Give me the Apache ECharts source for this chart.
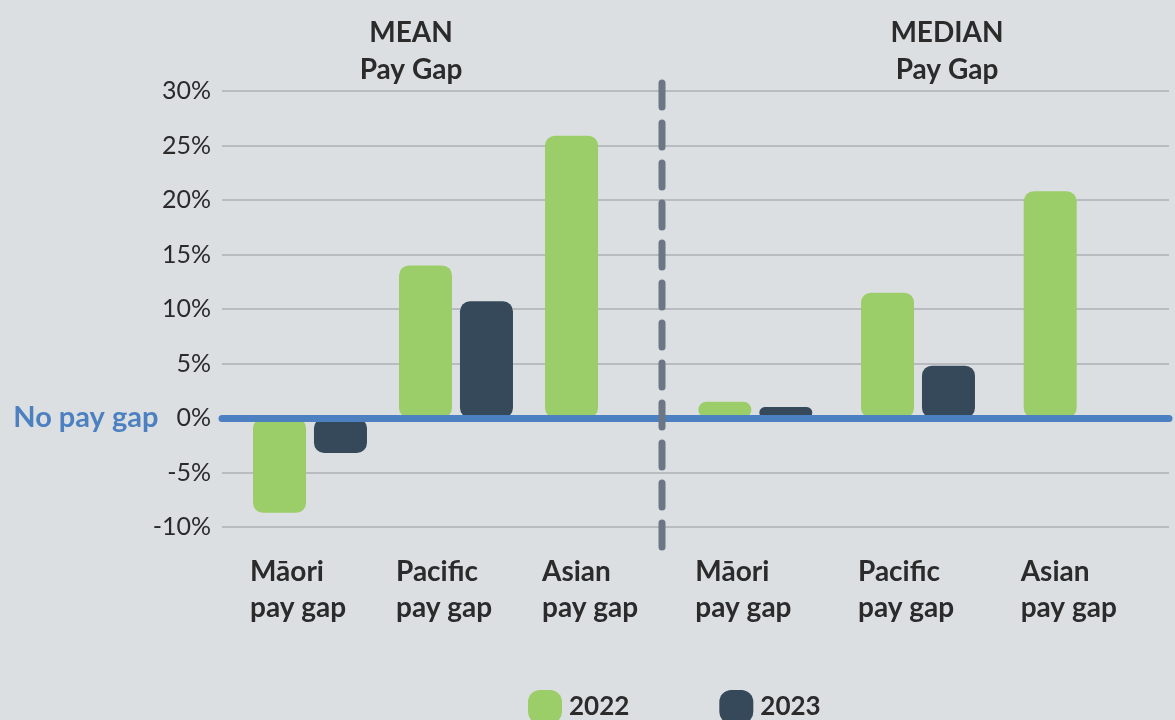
<!DOCTYPE html>
<html>
<head>
<meta charset="utf-8">
<title>Mean and median pay gap</title>
<script src="https://cdn.jsdelivr.net/npm/echarts@6/dist/echarts.min.js"></script>
<style>
  html, body { margin: 0; padding: 0; background: #dcdfe2; }
  #chart { width: 1175px; height: 720px; }
</style>
</head>
<body>
<div id="chart"></div>
<script>
// data
var categories = ['Māori', 'Pacific', 'Asian']
var years = ['2022', '2023']
var mean2022 = [-8.7, 14.0, 25.9]
var mean2023 = [-3.2, 10.7, null]
var median2022 = [1.5, 11.5, 20.8]
var median2023 = [1.0, 4.8, null]
var yMin = -10
var yMax = 30
var yStep = 5

var green = '#9bcd68'
var navy = '#35495a'
var blue = '#4c80c1'
var ink = '#2b2b2b'
var font = 'Lato'

var gridTop = 91
var gridBottom = 193

// rounded square for the legend
var legendIcon = 'path://M12,0 H22 A12,12 0 0 1 34,12 V22 A12,12 0 0 1 22,34 H12 A12,12 0 0 1 0,22 V12 A12,12 0 0 1 12,0 Z'

function catAxis (gridIndex) {
  return {
    type: 'category',
    gridIndex: gridIndex,
    data: categories,
    axisLine: { show: false },
    axisTick: { show: false },
    axisLabel: {
      interval: 0,
      margin: 27,
      formatter: function (v) {
        return '{a|' + v + '}\n{a|pay gap}'
      },
      rich: {
        a: {
          width: 120,
          align: 'left',
          fontFamily: font,
          fontWeight: 'bold',
          fontSize: 28,
          lineHeight: 36,
          color: ink
        }
      }
    }
  }
}

function hiddenY (gridIndex) {
  return {
    type: 'value',
    gridIndex: gridIndex,
    min: yMin,
    max: yMax,
    interval: yStep,
    show: false
  }
}

function barSeries (name, data, axisIndex, color) {
  return {
    name: name,
    type: 'bar',
    xAxisIndex: axisIndex,
    yAxisIndex: axisIndex,
    data: data,
    barWidth: 53,
    barGap: '15%',
    itemStyle: { color: color, borderRadius: 10 },
    emphasis: { disabled: true }
  }
}

var chart = echarts.init(document.getElementById('chart'), null, { renderer: 'canvas' })

chart.setOption({
  backgroundColor: '#dcdfe2',
  animation: false,
  title: [
    {
      text: 'MEAN\nPay Gap',
      left: 406,
      top: 9,
      textAlign: 'center',
      textStyle: { fontFamily: font, fontWeight: 'bold', fontSize: 28, lineHeight: 37, color: ink }
    },
    {
      text: 'MEDIAN\nPay Gap',
      left: 942,
      top: 9,
      textAlign: 'center',
      textStyle: { fontFamily: font, fontWeight: 'bold', fontSize: 28, lineHeight: 37, color: ink }
    }
  ],
  legend: {
    data: years,
    left: 523,
    top: 685,
    itemWidth: 34,
    itemHeight: 34,
    itemGap: 90,
    icon: legendIcon,
    selectedMode: false,
    textStyle: { fontFamily: font, fontWeight: 'bold', fontSize: 26, color: ink, padding: [0, 0, 0, 2] }
  },
  grid: [
    { left: 222, right: 6, top: gridTop, bottom: gridBottom },
    { left: 237, width: 438, top: gridTop, bottom: gridBottom },
    { left: 674, width: 488, top: gridTop, bottom: gridBottom }
  ],
  xAxis: [
    {
      type: 'category',
      gridIndex: 0,
      data: [''],
      z: 10,
      axisLine: { show: true, onZero: true, lineStyle: { color: blue, width: 7, cap: 'round' } },
      axisTick: { show: false },
      axisLabel: { show: false }
    },
    catAxis(1),
    catAxis(2)
  ],
  yAxis: [
    {
      type: 'value',
      gridIndex: 0,
      min: yMin,
      max: yMax,
      interval: yStep,
      axisLine: { show: false },
      axisTick: { show: false },
      splitLine: { lineStyle: { color: '#b8bbbf', width: 2 } },
      axisLabel: {
        margin: 11,
        formatter: function (v) {
          if (v === 0) return '{b|No pay gap}{s|}{a|0%}'
          return '{a|' + v + '%}'
        },
        rich: {
          a: { fontFamily: font, fontSize: 25, color: ink },
          b: { fontFamily: font, fontSize: 29, fontWeight: 'bold', color: blue },
          s: { width: 18 }
        }
      }
    },
    hiddenY(1),
    hiddenY(2)
  ],
  series: [
    barSeries('2022', mean2022, 1, green),
    barSeries('2023', mean2023, 1, navy),
    barSeries('2022', median2022, 2, green),
    barSeries('2023', median2023, 2, navy)
  ],
  graphic: [
    {
      type: 'line',
      z: 20,
      shape: { x1: 662, y1: 83, x2: 662, y2: 549 },
      style: { stroke: '#6b7785', lineWidth: 7, lineDash: [24, 16], lineCap: 'round' }
    }
  ]
})
</script>
</body>
</html>
